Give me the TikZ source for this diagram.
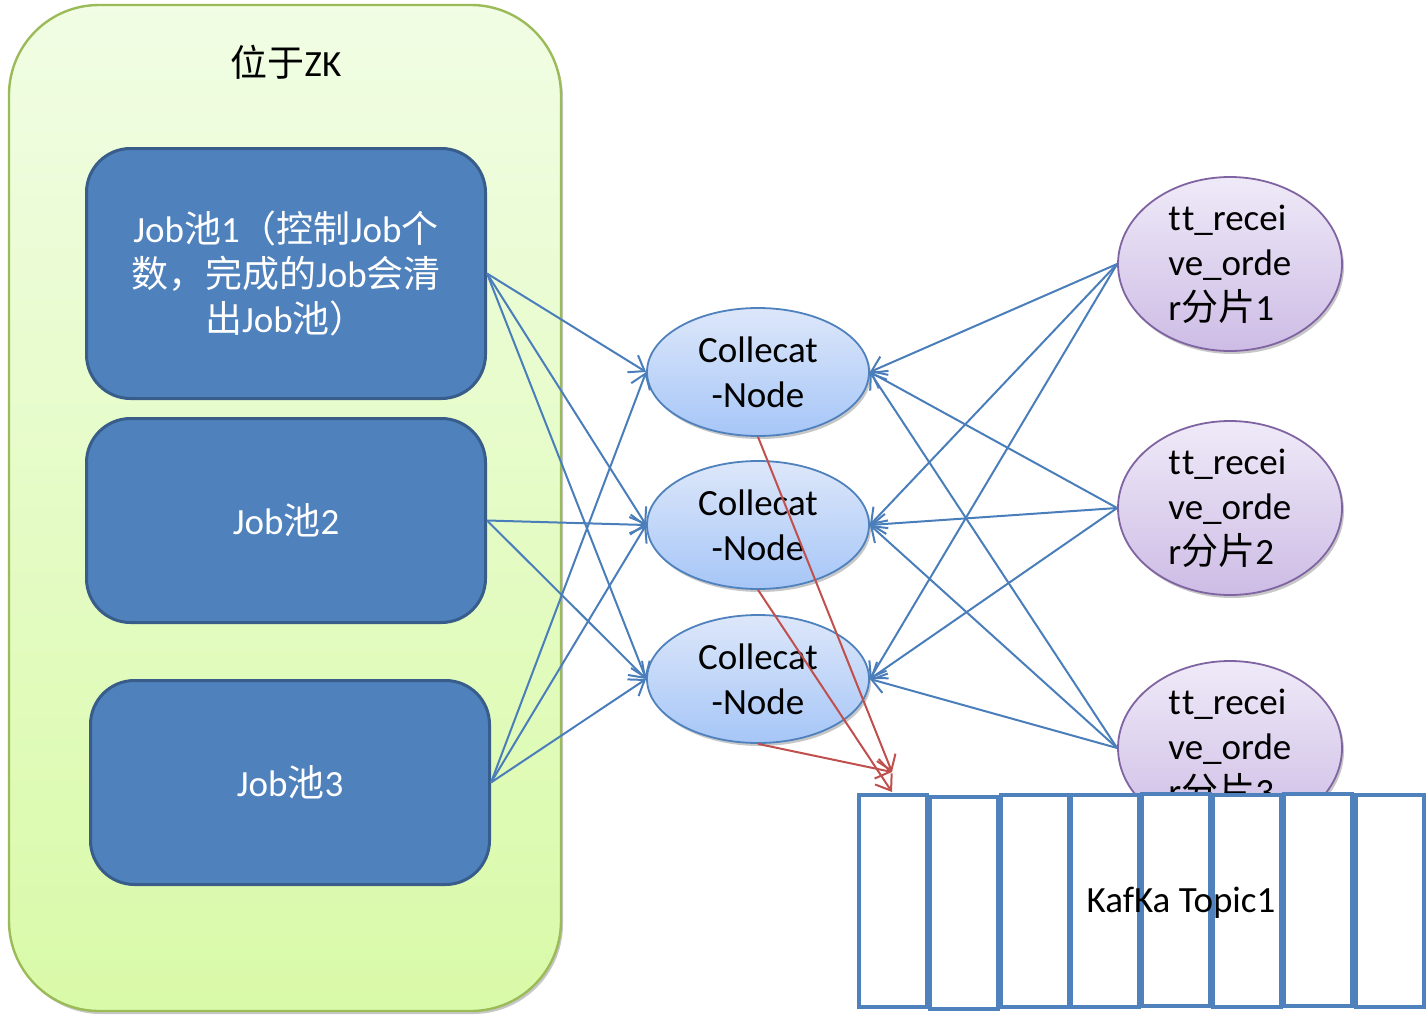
\documentclass[tikz,border=0pt]{standalone}
\usepackage{fontspec}
\setmainfont{Carlito}[Ligatures={NoCommon}, RawFeature={-clig}]
\newfontfamily\cjk{Noto Sans CJK SC}
\usetikzlibrary{shapes.geometric,arrows.meta,shadows}

\definecolor{zkfilltop}{RGB}{241,253,228}
\definecolor{zkfillbot}{RGB}{217,250,168}
\definecolor{zkdraw}{RGB}{155,187,89}
\definecolor{jobfill}{RGB}{79,129,189}
\definecolor{jobdraw}{RGB}{56,93,138}
\definecolor{linkblue}{RGB}{74,126,187}
\definecolor{linkred}{RGB}{192,80,77}
\definecolor{ctop}{RGB}{221,231,250}
\definecolor{cbot}{RGB}{166,198,247}
\definecolor{cdraw}{RGB}{79,129,189}
\definecolor{ttop}{RGB}{239,234,248}
\definecolor{tbot}{RGB}{205,188,229}
\definecolor{tdraw}{RGB}{128,100,162}
\definecolor{kdraw}{RGB}{79,129,189}

\begin{document}
\begin{tikzpicture}[x=0.5pt,y=-0.5pt,
  txt/.style={font=\fontsize{18.5}{22.5}\selectfont, inner sep=0pt},
  softshadow/.style={drop shadow={shadow xshift=1pt, shadow yshift=-1.5pt, opacity=0.22, fill=black}},
  container/.style={draw=zkdraw, line width=1.2pt, rounded corners=45pt,
    top color=zkfilltop, bottom color=zkfillbot, softshadow,
    minimum width=276pt, minimum height=503pt, inner sep=0pt},
  jobbox/.style={draw=jobdraw, line width=1.5pt, fill=jobfill, rounded corners=22pt,
    minimum width=199.5pt, inner sep=0pt},
  cnode/.style={ellipse, draw=cdraw, line width=0.9pt, top color=ctop, bottom color=cbot,
    softshadow, minimum width=111pt, minimum height=64pt, inner sep=0pt},
  tnode/.style={ellipse, draw=tdraw, line width=0.9pt, top color=ttop, bottom color=tbot,
    softshadow, minimum width=112pt, minimum height=87pt, inner sep=0pt},
  kbox/.style={draw=kdraw, line width=2pt, fill=white, minimum width=34pt,
    minimum height=106pt, inner sep=0pt},
  link/.style={draw=linkblue, line width=1pt, -{Straight Barb[length=7pt,width=10pt]}},
  redlink/.style={draw=linkred, line width=1pt, -{Straight Barb[length=7pt,width=10pt]}}
]
\useasboundingbox (0,0) rectangle (1427,1022);

% ZooKeeper container
\node[container] (zk) at (285,508) {};
\node[txt] (zktitle) at (286,62) {{\cjk 位于}ZK};

% job pools
\node[jobbox, minimum height=125pt] (job1) at (286,273.5) {};
\node[txt, text=white, align=center] (job1t) at (job1)
  {Job{\cjk 池}1{\cjk （控制}Job{\cjk 个}\\{\cjk 数，完成的}Job{\cjk 会清}\\{\cjk 出}Job{\cjk 池）}};
\node[jobbox, minimum height=102pt] (job2) at (286,520.5) {};
\node[txt, text=white] (job2t) at (job2) {Job{\cjk 池}2};
\node[jobbox, minimum height=102pt] (job3) at (290,782.5) {};
\node[txt, text=white] (job3t) at (job3) {Job{\cjk 池}3};

% collector nodes
\foreach \n/\y in {c1/372, c2/525, c3/679} {
  \node[cnode] (\n) at (758,\y) {};
  \node[txt, align=center] (\n t) at (\n) {Collecat\\-Node};
}

% order topic partitions
\foreach \n/\y/\k in {t1/264/1, t2/508/2, t3/748/3} {
  \node[tnode] (\n) at (1230,\y) {};
  \node[txt, align=left, anchor=west] (\n t) at (1168,\y) {t\kern0.6pt t\_recei\\ve\_orde\\r{\cjk 分片}\k};
}

% job pools feed the collectors
\foreach \a/\b in {job1/c1, job1/c2, job1/c3, job2/c2, job2/c3, job3/c1, job3/c2, job3/c3}
  \draw[link] (\a.east) -- (\b.west);

% partitions feed the collectors
\foreach \t in {t1,t2,t3}
  \foreach \c in {c1,c2,c3}
    \draw[link] (\t.west) -- (\c.east);

% collectors write to the Kafka topic
\coordinate (kin1) at (892,772);
\coordinate (kin2) at (892,792);
\draw[redlink] (c1.south) -- (kin1);
\draw[redlink] (c2.south) -- (kin2);
\draw[redlink] (c3.south) -- (kin1);

% Kafka topic partitions
\foreach \i/\x/\y in {1/892.5/901, 2/963.5/902.5, 3/1034.5/900.5, 4/1105/901, 5/1176/900, 6/1247/901, 7/1318/899.5, 8/1389.5/900.5}
  \node[kbox] (k\i) at (\x,\y) {};
\node[txt] (ktitle) at (1181,903) {KafKa Topic1};
\end{tikzpicture}
\end{document}
